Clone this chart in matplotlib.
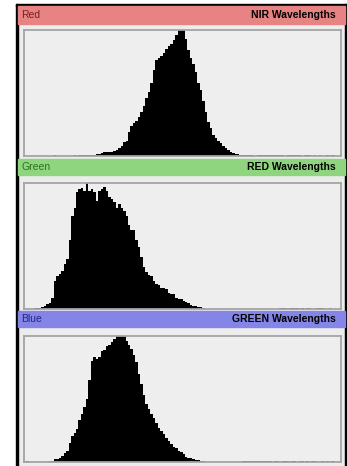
import numpy as np
import matplotlib
matplotlib.use("Agg")
import matplotlib.pyplot as plt
from matplotlib.patches import Rectangle

# channel names and band labels
channels = ["Red", "Green", "Blue"]
bands = ["NIR Wavelengths", "RED Wavelengths", "GREEN Wavelengths"]

# histogram heights, 128 bins, percent of panel height
hist_red = ([0] * 12 + [0.8] + [0] * 7 + [0.8, 0, 0.8, 0.8]
            + [1, 1, 1, 1, 1, 1.2, 1.5, 2.5, 3, 3, 3, 3.5, 4, 5, 6, 8, 11, 12]
            + [19, 24, 26, 28, 31, 35, 40, 46, 51, 58, 68, 76, 78, 79, 82, 85,
               87, 89, 92, 96, 100, 100, 100]
            + [93, 84, 78, 73, 67, 58, 52, 44, 35, 27, 22, 17, 14, 12, 10, 8,
               6, 4.5, 3.5, 2.5, 1.8, 1.2]
            + [0.8, 0.8, 0.8, 0.8, 0.8, 0.8, 0, 0.8, 0.8, 0.8, 0.8, 0.8, 0.8,
               0.8, 0.8, 0.8, 0.8, 0.8, 0, 0.8, 0.8, 0.8, 0.8, 0.8, 0.8, 0,
               0.8, 0.8, 0.8, 0, 0.8, 0, 0.8, 0, 0, 0.8, 0, 0.8]
            + [0, 0, 0])

hist_green = ([0, 0, 0, 0, 0.8, 1, 1, 1.5, 2]
              + [4, 4.6, 9, 22, 26, 28, 30, 36, 40, 55,
                 74, 80, 93, 95, 96, 94, 100, 94, 95, 93,
                 86, 94, 95, 97, 94, 89, 87, 85, 80, 83,
                 80, 78, 74, 67, 63, 63, 55, 49, 41, 33,
                 29, 27, 26, 22, 20, 19, 17, 17, 16, 13,
                 12, 12, 9, 8, 8, 6, 5.5, 5, 3, 2.5,
                 2, 1.5, 1.2, 0.8]
              + [0] * 30
              + [0.8, 0.8, 0.8, 0, 0.8, 0.8, 0.8, 0.8, 0, 0.8, 0, 0.8, 0.8,
                 0, 0, 0.8, 0.8, 0.8, 0, 0, 0.8, 0]
              + [0, 0, 0])

hist_blue = ([0, 0.8] + [0] * 8
             + [0.8, 1, 2.5, 2.7, 3, 5, 7, 9, 15, 21,
                23, 26, 33, 38, 44, 50, 65, 80, 83, 82,
                83, 88, 89, 92, 93, 95, 98, 100, 100, 100,
                100, 96, 93, 90, 85, 79, 70, 62, 53, 46,
                42, 38, 35, 31, 27, 25, 22, 19, 17, 14,
                12, 11, 9, 8, 6, 4, 3.5, 3, 2.5, 1.5,
                1.2, 1, 0.8]
             + [0] * 15
             + [0.8] * 10
             + [0.8, 0.8, 0, 0.8, 0.8, 0, 0.8, 0.8, 0.8, 0, 0.8, 0.8, 0,
                0.8, 0.8, 0, 0.8, 0, 0.8, 0.8, 0, 0, 0.8, 0, 0.8, 0, 0.8]
             + [0, 0, 0])

hists = [hist_red, hist_green, hist_blue]

W, H = 347, 466
header_colors = ["#e88383", "#8fd47e", "#8585e8"]
text_colors = ["#7a1c1c", "#2a7020", "#252585"]
header_y = [(6, 24), (159, 175), (311, 327)]
box_y = [(30, 156), (183, 309), (336, 462)]


def px(x0, y0, x1, y1):
    # pixel box (top-down) -> figure fraction rect
    return [x0 / W, 1 - y1 / H, (x1 - x0) / W, (y1 - y0) / H]


def add_rect(box, color, z):
    r = px(*box)
    fig.patches.append(Rectangle(r[:2], r[2], r[3], transform=fig.transFigure,
                                 color=color, zorder=z))


fig = plt.figure(figsize=(W / 100, H / 100), dpi=100, facecolor="white")

# grey panel background and black frame
add_rect((18, 6, 345, 466), "#ececec", -2)
for r in [(16, 4, 18, 466), (16, 4, 347, 6), (345, 4, 347, 466)]:
    add_rect(r, "black", -1)

for i in range(3):
    y0, y1 = header_y[i]
    add_rect((18, y0, 345, y1), header_colors[i], -1)
    yc = 1 - (y0 + y1) / 2 / H
    fig.text(21 / W, yc, channels[i], color=text_colors[i], fontsize=7.5,
             family="Liberation Sans", va="center", ha="left")
    fig.text(336 / W, yc, bands[i], color="black", fontsize=7.5,
             family="Liberation Sans", fontweight="bold", va="center", ha="right")

    b0, b1 = box_y[i]
    ax = fig.add_axes(px(24, b0, 341, b1))
    ax.set_zorder(2)
    ax.set_facecolor("#eeeeee")
    vals = np.array(hists[i], dtype=float)
    edges = np.arange(len(vals) + 1)
    ax.stairs(vals, edges, fill=True, color="black", linewidth=0)
    ax.set_xlim(0, 128)
    ax.set_ylim(0, 100)
    ax.set_xticks([])
    ax.set_yticks([])
    for s in ax.spines.values():
        s.set_color("#a4a4a4")
        s.set_linewidth(1.3)

fig.savefig("out.png", dpi=100, facecolor="white")
